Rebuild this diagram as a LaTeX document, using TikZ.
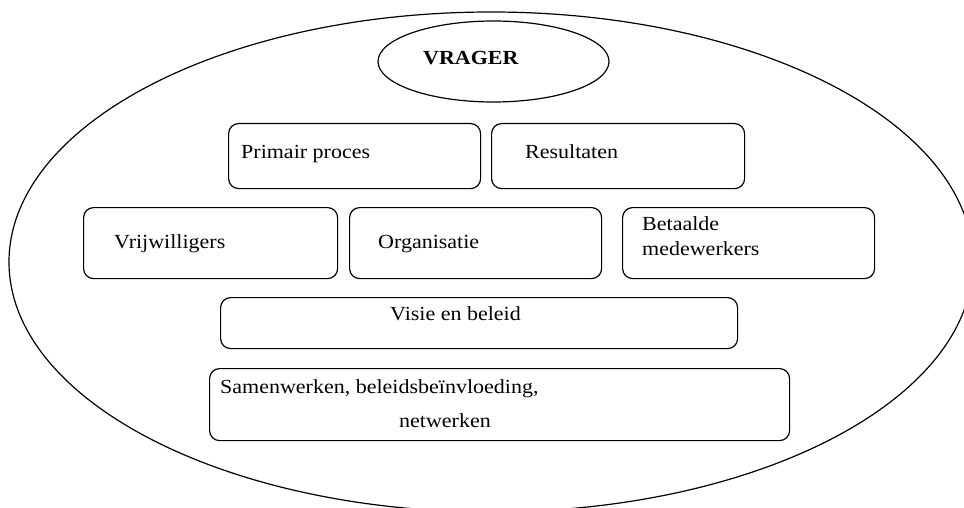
\documentclass[tikz,border=0pt]{standalone}
\usepackage{fontspec}
\setmainfont[FakeStretch=1.1]{Liberation Serif}
\usetikzlibrary{shapes.geometric}
\begin{document}
\begin{tikzpicture}[x=1pt,y=-1pt,
  outline/.style={draw=black,line width=1.2pt},
  blok/.style={outline,rounded corners=10pt,inner sep=0pt,anchor=north west},
  tekst/.style={inner sep=0pt,anchor=base west,font=\fontsize{20}{25}\selectfont}]
\useasboundingbox (0,0) rectangle (964,508);

% outer field
\begin{scope}
\clip (0,0) rectangle (964,508);
\node[outline,ellipse,minimum width=964pt,minimum height=500pt,inner sep=0pt] (veld) at (491,262) {};
\end{scope}

% the one asking
\node[outline,ellipse,minimum width=231pt,minimum height=81pt,inner sep=0pt] (vrager) at (493.5,61.5) {};
\node[tekst,font=\fontsize{20}{25}\selectfont\bfseries] (vragertxt) at (423,65) {VRAGER};

% first row
\node[blok,minimum width=252pt,minimum height=65pt] (primair) at (228,123) {};
\node[tekst] (primairtxt) at (241,159) {Primair proces};
\node[blok,minimum width=253pt,minimum height=65pt] (resultaten) at (491,123) {};
\node[tekst] (resultatentxt) at (525,159) {Resultaten};

% second row
\node[blok,minimum width=254pt,minimum height=71pt] (vrijw) at (83,207) {};
\node[tekst] (vrijwtxt) at (114,248) {Vrijwilligers};
\node[blok,minimum width=252pt,minimum height=71pt] (organisatie) at (349,207) {};
\node[tekst] (organisatietxt) at (378,248) {Organisatie};
\node[blok,minimum width=252pt,minimum height=71pt] (betaalde) at (622,207) {};
\node[tekst] (betaaldetxt1) at (642,230) {Betaalde};
\node[tekst] (betaaldetxt2) at (642,255) {medewerkers};

% third row
\node[blok,minimum width=517pt,minimum height=51pt] (visie) at (220,297) {};
\node[tekst] (visietxt) at (390,320) {Visie en beleid};

% fourth row
\node[blok,minimum width=580pt,minimum height=72pt] (samen) at (209,368) {};
\node[tekst] (samentxt1) at (220,393) {Samenwerken, beleidsbeïnvloeding,};
\node[tekst] (samentxt2) at (399,427) {netwerken};
\end{tikzpicture}
\end{document}
